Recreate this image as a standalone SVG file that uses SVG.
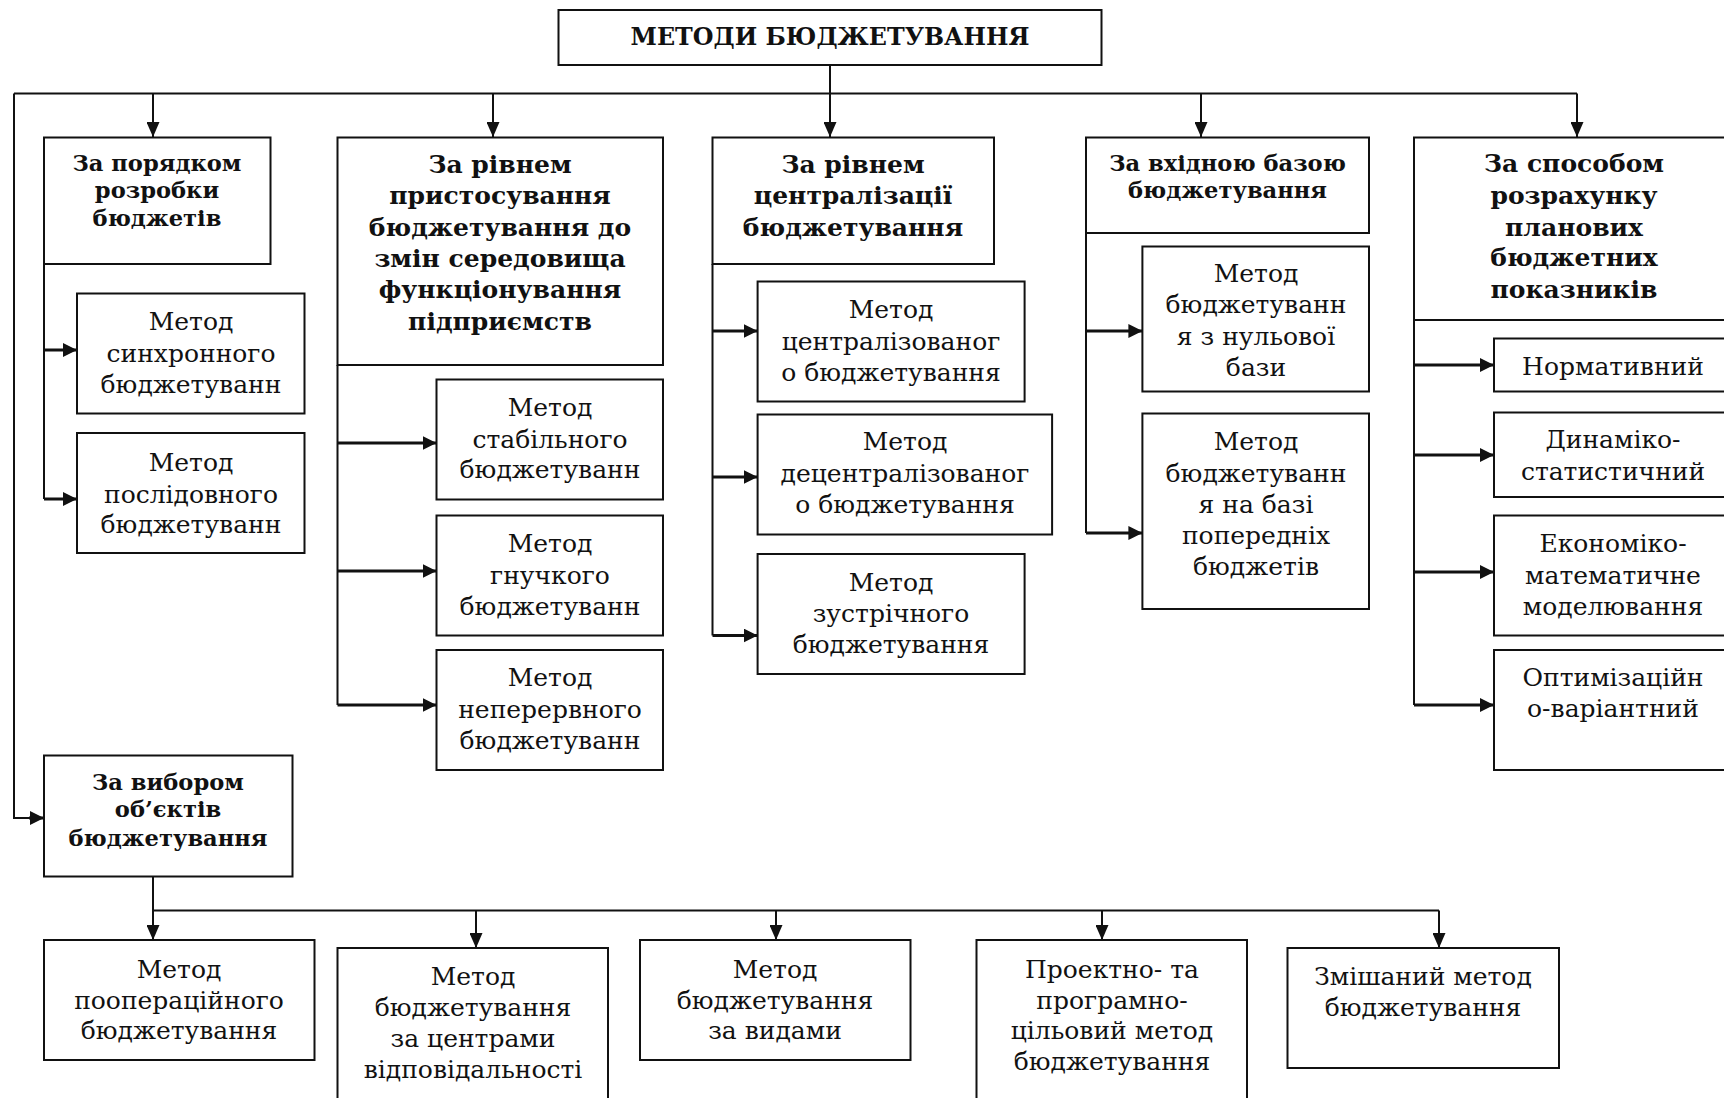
<svg xmlns="http://www.w3.org/2000/svg" width="1724" height="1098" viewBox="0 0 1724 1098">
  <style>
    .box { fill: #fff; stroke: #111; stroke-width: 2; }
    .ln { fill: none; stroke: #111; stroke-width: 2; }
    .st { fill: none; stroke: #111; stroke-width: 3; }
    .hd { font-family: "DejaVu Serif", "Liberation Serif", serif; font-weight: bold; font-size: 25px; fill: #111; text-anchor: middle; }
    .hs { font-size: 22.6px; }
    .ttl { font-size: 23.8px; }
    .tx { font-family: "DejaVu Serif", "Liberation Serif", serif; font-size: 25px; fill: #111; text-anchor: middle; }
  </style>
  <defs>
    <marker id="down" markerUnits="userSpaceOnUse" markerWidth="15" markerHeight="13" refX="15" refY="6.5" orient="auto">
      <path d="M0,0 L15,6.5 L0,13 z" fill="#111"/>
    </marker>
    <marker id="side" markerUnits="userSpaceOnUse" markerWidth="14" markerHeight="14" refX="14" refY="7" orient="auto">
      <path d="M0,0 L14,7 L0,14 z" fill="#111"/>
    </marker>
  </defs>
  <rect width="1724" height="1098" fill="#fff"/>

  <g id="connectors">
    <!-- top level distribution -->
    <path class="ln" d="M830,65 V137" marker-end="url(#down)"/>
    <path class="ln" d="M14,93.5 H1577"/>
    <path class="ln" d="M153,93.5 V137" marker-end="url(#down)"/>
    <path class="ln" d="M493,93.5 V137" marker-end="url(#down)"/>
    <path class="ln" d="M1201,93.5 V137" marker-end="url(#down)"/>
    <path class="ln" d="M1577,93.5 V137" marker-end="url(#down)"/>
    <path class="ln" d="M14,93.5 V818 H30"/>
    <path class="st" d="M29,818 H44" marker-end="url(#side)"/>
    <!-- column 1 -->
    <path class="ln" d="M44,264 V499"/>
    <path class="st" d="M44,350 H77" marker-end="url(#side)"/>
    <path class="st" d="M44,499 H77" marker-end="url(#side)"/>
    <!-- column 2 -->
    <path class="ln" d="M337.5,365 V705"/>
    <path class="st" d="M337.5,443 H436.5" marker-end="url(#side)"/>
    <path class="st" d="M337.5,571 H436.5" marker-end="url(#side)"/>
    <path class="st" d="M337.5,705 H436.5" marker-end="url(#side)"/>
    <!-- column 3 -->
    <path class="ln" d="M712.5,264 V635.5"/>
    <path class="st" d="M712.5,331 H757.6" marker-end="url(#side)"/>
    <path class="st" d="M712.5,477 H757.6" marker-end="url(#side)"/>
    <path class="st" d="M712.5,635.5 H757.6" marker-end="url(#side)"/>
    <!-- column 4 -->
    <path class="ln" d="M1086,233 V533"/>
    <path class="st" d="M1086,331 H1142.4" marker-end="url(#side)"/>
    <path class="st" d="M1086,533 H1142.4" marker-end="url(#side)"/>
    <!-- column 5 -->
    <path class="ln" d="M1414,320 V705"/>
    <path class="st" d="M1414,365 H1494" marker-end="url(#side)"/>
    <path class="st" d="M1414,455 H1494" marker-end="url(#side)"/>
    <path class="st" d="M1414,572 H1494" marker-end="url(#side)"/>
    <path class="st" d="M1414,705 H1494" marker-end="url(#side)"/>
    <!-- objects of budgeting -->
    <path class="ln" d="M153,876 V940" marker-end="url(#down)"/>
    <path class="ln" d="M153,910.5 H1439"/>
    <path class="ln" d="M476,910.5 V948" marker-end="url(#down)"/>
    <path class="ln" d="M776,910.5 V940" marker-end="url(#down)"/>
    <path class="ln" d="M1102,910.5 V940" marker-end="url(#down)"/>
    <path class="ln" d="M1439,910.5 V948" marker-end="url(#down)"/>
  </g>

  <g id="root">
    <rect class="box" x="558.5" y="10" width="543" height="55"/>
    <text class="hd ttl" x="830" y="45">МЕТОДИ БЮДЖЕТУВАННЯ</text>
  </g>

  <g id="by-order">
    <rect class="box" x="44" y="137.5" width="226.5" height="126.5"/>
    <text class="hd hs" x="157" y="171">За порядком</text>
    <text class="hd hs" x="157" y="198">розробки</text>
    <text class="hd hs" x="157" y="226">бюджетів</text>
  </g>
  <g id="synchronous">
    <rect class="box" x="77" y="293.5" width="227.5" height="120"/>
    <text class="tx" x="191" y="330">Метод</text>
    <text class="tx" x="191" y="362">синхронного</text>
    <text class="tx" x="191" y="393">бюджетуванн</text>
  </g>
  <g id="sequential">
    <rect class="box" x="77" y="433" width="227.5" height="120"/>
    <text class="tx" x="191" y="471">Метод</text>
    <text class="tx" x="191" y="503">послідовного</text>
    <text class="tx" x="191" y="533">бюджетуванн</text>
  </g>

  <g id="by-adaptation">
    <rect class="box" x="337.5" y="137.5" width="325.5" height="227.5"/>
    <text class="hd" x="500" y="173">За рівнем</text>
    <text class="hd" x="500" y="204">пристосування</text>
    <text class="hd" x="500" y="236">бюджетування до</text>
    <text class="hd" x="500" y="267">змін середовища</text>
    <text class="hd" x="500" y="298">функціонування</text>
    <text class="hd" x="500" y="330">підприємств</text>
  </g>
  <g id="stable">
    <rect class="box" x="436.5" y="379.5" width="226.5" height="120"/>
    <text class="tx" x="550" y="416">Метод</text>
    <text class="tx" x="550" y="448">стабільного</text>
    <text class="tx" x="550" y="478">бюджетуванн</text>
  </g>
  <g id="flexible">
    <rect class="box" x="436.5" y="515.5" width="226.5" height="120"/>
    <text class="tx" x="550" y="552">Метод</text>
    <text class="tx" x="550" y="584">гнучкого</text>
    <text class="tx" x="550" y="615">бюджетуванн</text>
  </g>
  <g id="continuous">
    <rect class="box" x="436.5" y="650" width="226.5" height="120"/>
    <text class="tx" x="550" y="686">Метод</text>
    <text class="tx" x="550" y="718">неперервного</text>
    <text class="tx" x="550" y="749">бюджетуванн</text>
  </g>

  <g id="by-centralization">
    <rect class="box" x="712.5" y="137.5" width="281.5" height="126.5"/>
    <text class="hd" x="853" y="173">За рівнем</text>
    <text class="hd" x="853" y="204">централізації</text>
    <text class="hd" x="853" y="236">бюджетування</text>
  </g>
  <g id="centralized">
    <rect class="box" x="757.6" y="281.5" width="267" height="120"/>
    <text class="tx" x="891" y="318">Метод</text>
    <text class="tx" x="891" y="350">централізованог</text>
    <text class="tx" x="891" y="381">о бюджетування</text>
  </g>
  <g id="decentralized">
    <rect class="box" x="757.6" y="414.5" width="294.5" height="120"/>
    <text class="tx" x="905" y="450">Метод</text>
    <text class="tx" x="905" y="482">децентралізованог</text>
    <text class="tx" x="905" y="513">о бюджетування</text>
  </g>
  <g id="counter">
    <rect class="box" x="757.6" y="554" width="267" height="120"/>
    <text class="tx" x="891" y="591">Метод</text>
    <text class="tx" x="891" y="622">зустрічного</text>
    <text class="tx" x="891" y="653">бюджетування</text>
  </g>

  <g id="by-base">
    <rect class="box" x="1086" y="137.5" width="283" height="95.5"/>
    <text class="hd hs" x="1227.5" y="171">За вхідною базою</text>
    <text class="hd hs" x="1227.5" y="198">бюджетування</text>
  </g>
  <g id="zero-base">
    <rect class="box" x="1142.4" y="246.5" width="226.6" height="145"/>
    <text class="tx" x="1256" y="282">Метод</text>
    <text class="tx" x="1256" y="313">бюджетуванн</text>
    <text class="tx" x="1256" y="345">я з нульової</text>
    <text class="tx" x="1256" y="376">бази</text>
  </g>
  <g id="previous-base">
    <rect class="box" x="1142.4" y="413.5" width="226.6" height="195.5"/>
    <text class="tx" x="1256" y="450">Метод</text>
    <text class="tx" x="1256" y="482">бюджетуванн</text>
    <text class="tx" x="1256" y="513">я на базі</text>
    <text class="tx" x="1256" y="544">попередніх</text>
    <text class="tx" x="1256" y="575">бюджетів</text>
  </g>

  <g id="by-calculation">
    <rect class="box" x="1414" y="137.5" width="320" height="182.5"/>
    <text class="hd" x="1574" y="172">За способом</text>
    <text class="hd" x="1574" y="204">розрахунку</text>
    <text class="hd" x="1574" y="236">планових</text>
    <text class="hd" x="1574" y="266">бюджетних</text>
    <text class="hd" x="1574" y="298">показників</text>
  </g>
  <g id="normative">
    <rect class="box" x="1494" y="338.5" width="240" height="53"/>
    <text class="tx" x="1613" y="375">Нормативний</text>
  </g>
  <g id="dynamic-statistical">
    <rect class="box" x="1494" y="412.5" width="240" height="84.5"/>
    <text class="tx" x="1613" y="448">Динаміко-</text>
    <text class="tx" x="1613" y="480">статистичний</text>
  </g>
  <g id="economic-mathematical">
    <rect class="box" x="1494" y="515.5" width="240" height="120"/>
    <text class="tx" x="1613" y="552">Економіко-</text>
    <text class="tx" x="1613" y="584">математичне</text>
    <text class="tx" x="1613" y="615">моделювання</text>
  </g>
  <g id="optimization">
    <rect class="box" x="1494" y="650" width="240" height="120"/>
    <text class="tx" x="1613" y="686">Оптимізаційн</text>
    <text class="tx" x="1613" y="717">о-варіантний</text>
  </g>

  <g id="by-objects">
    <rect class="box" x="44" y="755.5" width="248.5" height="121"/>
    <text class="hd hs" x="168" y="790">За вибором</text>
    <text class="hd hs" x="168" y="817">об’єктів</text>
    <text class="hd hs" x="168" y="846">бюджетування</text>
  </g>
  <g id="per-operation">
    <rect class="box" x="44" y="940" width="270.5" height="120"/>
    <text class="tx" x="179" y="978">Метод</text>
    <text class="tx" x="179" y="1009">поопераційного</text>
    <text class="tx" x="179" y="1039">бюджетування</text>
  </g>
  <g id="responsibility-centers">
    <rect class="box" x="337.5" y="948" width="270.5" height="160"/>
    <text class="tx" x="473" y="985">Метод</text>
    <text class="tx" x="473" y="1016">бюджетування</text>
    <text class="tx" x="473" y="1047">за центрами</text>
    <text class="tx" x="473" y="1078">відповідальності</text>
  </g>
  <g id="by-types">
    <rect class="box" x="640" y="940" width="270.5" height="120"/>
    <text class="tx" x="775" y="978">Метод</text>
    <text class="tx" x="775" y="1009">бюджетування</text>
    <text class="tx" x="775" y="1039">за видами</text>
  </g>
  <g id="project-program">
    <rect class="box" x="976.5" y="940" width="270.5" height="170"/>
    <text class="tx" x="1112" y="978">Проектно- та</text>
    <text class="tx" x="1112" y="1009">програмно-</text>
    <text class="tx" x="1112" y="1039">цільовий метод</text>
    <text class="tx" x="1112" y="1070">бюджетування</text>
  </g>
  <g id="mixed">
    <rect class="box" x="1287.5" y="948" width="271.5" height="120"/>
    <text class="tx" x="1423" y="985">Змішаний метод</text>
    <text class="tx" x="1423" y="1016">бюджетування</text>
  </g>
</svg>
